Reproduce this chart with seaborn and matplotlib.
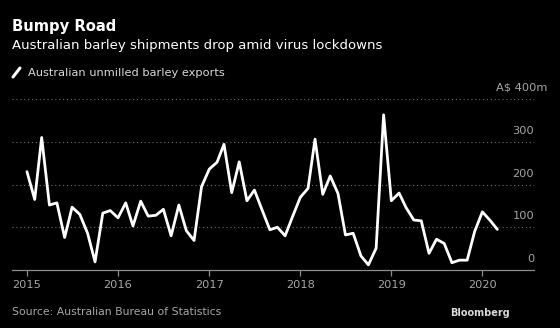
import matplotlib
matplotlib.use("Agg")
import matplotlib.pyplot as plt
import matplotlib.transforms as mtrans
import seaborn as sns
import pandas as pd

months = pd.date_range("2015-01-01", "2020-03-01", freq="MS")
exports = [
    230, 165, 310, 152, 157, 76, 147, 130, 86, 19, 133, 139,   # 2015
    122, 157, 103, 161, 126, 128, 142, 80, 152, 92, 69, 195,   # 2016
    236, 252, 294, 181, 253, 162, 187, 140, 94, 100, 80, 125,  # 2017
    170, 191, 306, 177, 220, 179, 82, 86, 33, 12, 51, 363,     # 2018
    162, 180, 146, 117, 115, 39, 72, 62, 17, 23, 23, 90,       # 2019
    136, 116, 95,                                              # 2020
]
year_ticks = ["2015", "2016", "2017", "2018", "2019", "2020"]
y_ticks = [0, 100, 200, 300]
y_labels = ["0", "100", "200", "300"]
y_top = 400
y_top_label = "A$ 400m"

df = pd.DataFrame({"month": months, "exports": exports})

sns.set_theme(style="dark")
plt.rcParams["font.family"] = ["DejaVu Sans"]

BG = "black"
GREY = "#a6a6a6"
fig = plt.figure(figsize=(5.6, 3.28), dpi=100, facecolor=BG)
ax = fig.add_axes([12 / 560, 1 - 270 / 328, (534 - 12) / 560, (270 - 99) / 328])
ax.set_facecolor(BG)

sns.lineplot(data=df, x="month", y="exports", ax=ax, color="white", linewidth=2.0,
             clip_on=False)

ax.set_ylim(0, y_top)
ax.set_xlim(pd.Timestamp("2014-11-02"), pd.Timestamp("2020-07-26"))

for v in y_ticks[1:] + [y_top]:
    ax.axhline(v, color="#6e6e6e", linewidth=0.8, linestyle=(0, (1, 2.5)), zorder=0)

for s in ["top", "left", "right"]:
    ax.spines[s].set_visible(False)
ax.spines["bottom"].set_color("#8c8c8c")
ax.spines["bottom"].set_linewidth(0.9)

ax.set_yticks([])
ax.set_xticks([pd.Timestamp(f"{y}-01-01") for y in year_ticks])
ax.set_xticklabels(year_ticks, color=GREY, fontsize=8.2)
ax.tick_params(axis="x", length=4, width=0.9, color="#8c8c8c", pad=3.5, bottom=True)
ax.set_xlabel("")
ax.set_ylabel("")
ax.grid(False)

trans = mtrans.blended_transform_factory(ax.transAxes, ax.transData)
for v, lab in zip(y_ticks, y_labels):
    ax.text(1.0, v + 14, lab, transform=trans, ha="right", va="bottom",
            color=GREY, fontsize=8.2)
ax.text(547 / 560, 1 - 88 / 328, y_top_label, transform=fig.transFigure,
        ha="right", va="center", color=GREY, fontsize=8.2)

fig.text(12 / 560, 1 - 26 / 328, "Bumpy Road", color="white", fontsize=10.6,
         fontweight="bold", ha="left", va="center")
fig.text(12 / 560, 1 - 46 / 328, "Australian barley shipments drop amid virus lockdowns",
         color="white", fontsize=9.5, ha="left", va="center")
fig.lines.append(plt.Line2D([13 / 560, 20 / 560], [1 - 77 / 328, 1 - 68 / 328],
                            transform=fig.transFigure, color="white", linewidth=2.2))
fig.text(28 / 560, 1 - 72.5 / 328, "Australian unmilled barley exports",
         color="#d9d9d9", fontsize=8.2, ha="left", va="center")
fig.text(12 / 560, 1 - 312 / 328, "Source: Australian Bureau of Statistics",
         color=GREY, fontsize=7.8, ha="left", va="center")
fig.text(510 / 560, 1 - 313 / 328, "Bloomberg", color="#d9d9d9", fontsize=7.0,
         fontweight="bold", ha="right", va="center")

fig.savefig("out.png", dpi=100, facecolor=BG)
